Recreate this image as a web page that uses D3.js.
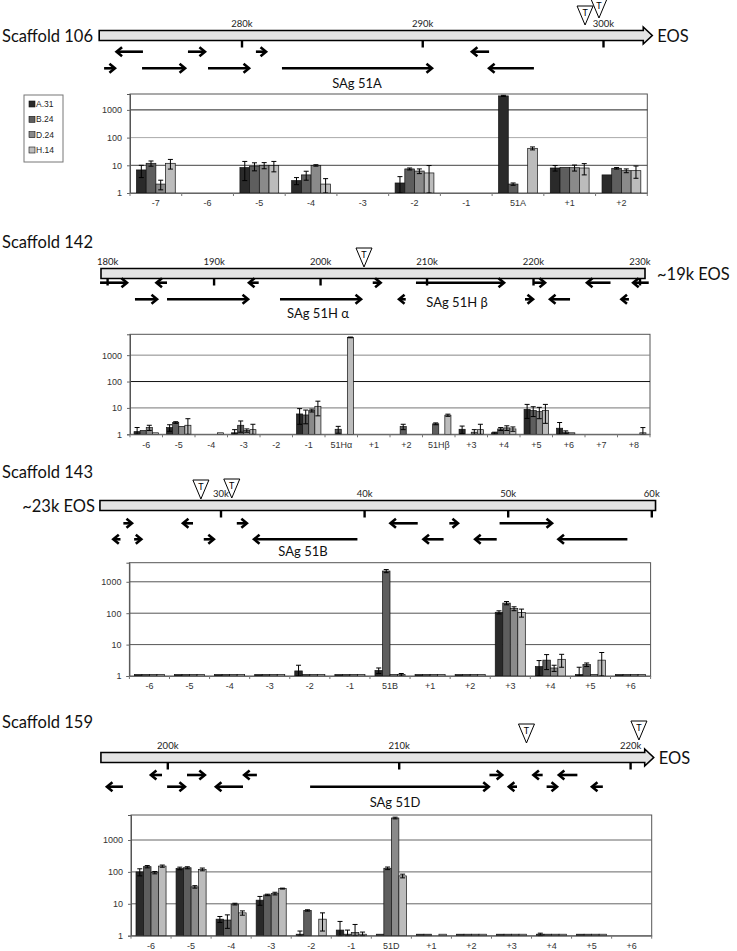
<!DOCTYPE html>
<html>
<head>
<meta charset="utf-8">
<script src="https://cdn.jsdelivr.net/npm/d3@7"></script>
<style>
body{margin:0;background:#fff;}
svg{display:block;}
.big{font-family:Lato,'Open Sans',sans-serif;font-size:16.5px;fill:#111;}
.kb{font-family:Lato,sans-serif;font-size:9.5px;fill:#222;}
.sag{font-family:Lato,sans-serif;font-size:13px;fill:#111;}
.ax text{font-family:'Liberation Sans',Arial,sans-serif;font-size:9px;fill:#333;}
.leg{font-family:'Liberation Sans',Arial,sans-serif;font-size:8.5px;fill:#222;}
</style>
</head>
<body>
<svg id="fig" width="737" height="951"></svg>
<script>
var series = ['A.31', 'B.24', 'D.24', 'H.14'];
var colors = ['#2a2a2a', '#5e5e5e', '#8a8a8a', '#bcbcbc'];
var yTicks = [1, 10, 100, 1000];

// ---- scaffold maps (kb). genes: [from, to, row], arrow points at "to"
var sc106Ticks = [280, 290, 300];
var sc106Span = [272.1, 302.2];
var sc106Tsites = [298.98, 299.75];
var sc106Genes = [
	[274.52, 273.06, 0], [277.01, 277.95, 0], [280.77, 281.33, 0], [293.67, 292.72, 0],
	[272.37, 272.97, 1], [274.47, 276.85, 1], [278.12, 280.39, 1], [282.21, 290.51, 1], [296.15, 293.67, 1]
];

var sc142Ticks = [180, 190, 200, 210, 220, 230];
var sc142Span = [179.38, 230.47];
var sc142Tsites = [204.08];
var sc142Genes = [
	[179.29, 181.82, 0], [185.58, 184.59, 0], [194.19, 193.28, 0], [204.9, 205.64, 0],
	[208.96, 217.23, 0], [220.05, 221.08, 0], [227.23, 225.02, 0], [230.82, 229.36, 0],
	[182.57, 184.64, 1], [185.58, 193.19, 1], [196.19, 203.8, 1], [208.0, 207.37, 1],
	[219.2, 219.95, 1], [223.43, 221.55, 1], [228.96, 228.26, 1]
];

var sc143Ticks = [30, 40, 50, 60];
var sc143Span = [21.57, 60.26];
var sc143Tsites = [28.6, 30.75];
var sc143Genes = [
	[23.2, 23.8, 0], [28.05, 27.35, 0], [31.1, 31.8, 0], [43.7, 41.8, 0], [45.9, 46.5, 0], [49.4, 53.05, 0],
	[23.0, 22.5, 1], [23.95, 24.45, 1], [28.8, 29.5, 1], [39.5, 32.3, 1], [45.5, 44.1, 1],
	[49.2, 47.7, 1], [58.3, 53.5, 1]
];

var sc159Ticks = [200, 210, 220];
var sc159Span = [197.11, 220.61];
var sc159Tsites = [215.5, 220.36];
var sc159Genes = [
	[199.75, 199.27, 0], [200.83, 201.6, 0], [203.85, 203.3, 0], [213.9, 214.45, 0],
	[216.2, 215.8, 0], [217.7, 216.9, 0],
	[198.06, 197.37, 1], [199.97, 200.74, 1], [203.25, 202.08, 1], [206.15, 213.87, 1],
	[215.09, 214.74, 1], [216.37, 216.82, 1], [218.8, 218.33, 1]
];

// ---- expression charts (null = no bar)
var cat106 = ['-7', '-6', '-5', '-4', '-3', '-2', '-1', '51A', '+1', '+2'];
var c106A = [6.8, null, 8.3, 2.8, null, 2.3, null, 3200, 8, 4.5];
var c106Aerr = [3.2, 0, 5.5, 0.8, 0, 1.6, 0, 150, 1.8, 0];
var c106B = [11.8, null, 9.3, 4.5, null, 7.4, null, 2.1, 8.4, 7.8];
var c106Berr = [2.5, 0, 3, 1.6, 0, 0.6, 0, 0.2, 0, 0.5];
var c106D = [2.1, null, 10, 9.9, null, 6.2, null, null, 8.2, 6.4];
var c106Derr = [0.8, 0, 2.5, 0.6, 0, 1.2, 0, 0, 2, 1];
var c106H = [11.8, null, 9.8, 2.1, null, 5.3, null, 41, 8, 6.4];
var c106Herr = [4.5, 0, 4, 1.2, 0, 4.5, 0, 5, 3.5, 3];

var cat142 = ['-6', '-5', '-4', '-3', '-2', '-1', '51H\u03b1', '+1', '+2', '51H\u03b2', '+3', '+4', '+5', '+6', '+7', '+8'];
var c142A = [1.26, 1.8, null, 1.05, null, 5.9, null, null, null, null, 1.55, 1.05, 8.8, 1.7, null, null];
var c142Aerr = [0.55, 0.5, 0, 0.45, 0, 3.5, 0, 0, 0, 0, 0.5, 0.15, 4.8, 1.1, 0, 0];
var c142B = [1.4, 2.8, null, 2.2, null, 5.4, 1.55, null, 1.95, 2.5, null, 1.6, 7.9, 1.2, null, null];
var c142Berr = [0, 0.2, 0, 1.0, 0, 2.9, 0.45, 0, 0.45, 0.2, 0, 0.2, 3.2, 0.15, 0, 0];
var c142D = [1.8, 2.0, null, 1.4, null, 8.0, null, null, null, null, 1.2, 1.75, 7.2, 1.05, null, null];
var c142Derr = [0.4, 0, 0, 0.2, 0, 1, 0, 0, 0, 0, 0.3, 0.35, 3.3, 0, 0, 0];
var c142H = [1.05, 2.2, 1.05, 1.5, null, 11.5, 4700, null, null, 5.3, 1.5, 1.6, 8.1, null, null, 1.05];
var c142Herr = [0, 1.7, 0, 0.9, 0, 6.5, 150, 0, 0, 0.5, 0.9, 0.3, 5.5, 0, 0, 0.75];

var cat143 = ['-6', '-5', '-4', '-3', '-2', '-1', '51B', '+1', '+2', '+3', '+4', '+5', '+6'];
var c143A = [1, 1, 1, 1, 1.45, 1, 1.5, 1, 1, 107, 2.0, 1, 1];
var c143Aerr = [0, 0, 0, 0, 0.75, 0, 0.3, 0, 0, 12, 1.1, 0.9, 0];
var c143B = [1, 1, 1, 1, 1, 1, 2200, 1, 1, 210, 3.2, 2.3, 1];
var c143Berr = [0, 0, 0, 0, 0, 0, 250, 0, 0, 25, 1.6, 0.3, 0];
var c143D = [1, 1, 1, 1, 1, 1, 1.1, 1, 1, 140, 1.8, 1, 1];
var c143Derr = [0, 0, 0, 0, 0, 0, 0, 0, 0, 20, 0.4, 0, 0];
var c143H = [1, 1, 1, 1, 1, 1, 1.1, 1, 1, 105, 3.4, 3.2, 1];
var c143Herr = [0, 0, 0, 0, 0, 0, 0.1, 0, 0, 30, 1.5, 2.4, 0];

var cat159 = ['-6', '-5', '-4', '-3', '-2', '-1', '51D', '+1', '+2', '+3', '+4', '+5', '+6'];
var c159A = [100, 129, 3.3, 13, 1, 1.5, 1, 1, 1, 1, 1, 1, null];
var c159Aerr = [25, 12, 0.7, 4, 0.4, 1.3, 0, 0, 0, 0, 0.2, 0, 0];
var c159B = [146, 135, 3.1, 19, 6.2, 1, 130, 1, 1, 1, 1, 1, null];
var c159Berr = [12, 10, 1.4, 1, 0.3, 0.5, 12, 0, 0, 0, 0, 0, 0];
var c159D = [95, 34, 9.8, 21, null, 1.25, 4900, null, 1, 1, 1, 1, null];
var c159Derr = [8, 3, 0.6, 2, 0, 1, 300, 0, 0, 0, 0, 0, 0];
var c159H = [152, 120, 5.2, 30, 3.3, 1, 75, 1, 1, 1, 1, 1, null];
var c159Herr = [12, 12, 0.8, 1, 1.9, 0.3, 10, 0, 0, 0, 0, 0, 0];

var svg = d3.select('#fig');

function pointsAttr(pts){
	return pts.map(function(p){ return p.join(','); }).join(' ');
}

function drawScaffold(cfg){
	var g = svg.append('g');
	var x = d3.scaleLinear().domain(cfg.tickDomain).range(cfg.tickRange);
	var xa = x(cfg.span[0]), xb = x(cfg.span[1]);
	var top = cfg.barY, bot = cfg.barY + 10, mid = cfg.barY + 5;

	g.append('text').attr('class', 'big').attr('x', 2).attr('y', cfg.labelY)
		.attr('dominant-baseline', 'central').text(cfg.name);

	var pts;
	if (cfg.head){
		pts = [[xa, top], [xb, top], [xb, mid - 8.5], [xb + 9, mid], [xb, mid + 8.5], [xb, bot], [xa, bot]];
	} else {
		pts = [[xa, top], [xb, top], [xb, bot], [xa, bot]];
	}
	g.append('polygon').attr('points', pointsAttr(pts))
		.attr('fill', '#e4e4e4').attr('stroke', '#000').attr('stroke-width', 1.6);

	g.selectAll('.tk').data(cfg.ticks).enter().append('line')
		.attr('x1', function(t){ return x(t); }).attr('x2', function(t){ return x(t); })
		.attr('y1', bot).attr('y2', bot + 7)
		.attr('stroke', '#000').attr('stroke-width', 2.4);

	g.selectAll('.tl').data(cfg.ticks).enter().append('text')
		.attr('class', 'kb').attr('text-anchor', 'middle')
		.attr('x', function(t){ return x(t); }).attr('y', top - 4)
		.text(function(t){ return t + 'k'; });

	// end-of-sequence label
	var eos = g.append('text').attr('class', 'big').attr('dominant-baseline', 'central')
		.attr('y', mid).text(cfg.eos);
	if (cfg.eosLeft){
		eos.attr('x', xa - 5).attr('text-anchor', 'end');
	} else {
		eos.attr('x', cfg.head ? xb + 14 : xb + 12);
	}

	// gene arrows
	cfg.genes.forEach(function(d){
		var x1 = x(d[0]), x2 = x(d[1]), y = cfg.rows[d[2]];
		var dir = x2 > x1 ? 1 : -1;
		g.append('line').attr('x1', x1).attr('x2', x2 - dir).attr('y1', y).attr('y2', y)
			.attr('stroke', '#000').attr('stroke-width', 2.6);
		g.append('path')
			.attr('d', 'M' + (x2 - dir * 5.5) + ',' + (y - 4.5) + 'L' + x2 + ',' + y + 'L' + (x2 - dir * 5.5) + ',' + (y + 4.5))
			.attr('fill', 'none').attr('stroke', '#000').attr('stroke-width', 2.6)
			.attr('stroke-linejoin', 'miter');
	});

	cfg.sag.forEach(function(s){
		g.append('text').attr('class', 'sag').attr('text-anchor', 'middle')
			.attr('dominant-baseline', 'central').attr('x', s[1]).attr('y', s[2]).text(s[0]);
	});

	// terminator sites
	cfg.tsites.forEach(function(t, i){
		var xt = x(t), ty = cfg.tipY[i];
		g.append('polygon').attr('points', pointsAttr([[xt - 8, ty - 19], [xt + 8, ty - 19], [xt, ty]]))
			.attr('fill', '#fff').attr('stroke', '#000').attr('stroke-width', 1);
		g.append('text').attr('text-anchor', 'middle')
			.attr('x', xt).attr('y', ty - 9)
			.style('font-family', 'Lato, sans-serif').style('font-size', '9px').style('fill', '#000')
			.text('T');
	});
}

function drawChart(cfg){
	var g = svg.append('g');
	var x = d3.scaleBand().domain(cfg.cats).range([cfg.x0, cfg.x1]).paddingInner(0.25).paddingOuter(0.125);
	var xs = d3.scaleBand().domain(series).range([0, x.bandwidth()]);
	var y = d3.scaleLog().domain([1, cfg.ymax]).range([cfg.y1, cfg.y0]);

	g.append('rect').attr('x', cfg.x0).attr('y', cfg.y0)
		.attr('width', cfg.x1 - cfg.x0).attr('height', cfg.y1 - cfg.y0)
		.attr('fill', 'none').attr('stroke', '#555').attr('stroke-width', 1);

	g.selectAll('.grid').data(yTicks.slice(1)).enter().append('line')
		.attr('x1', cfg.x0).attr('x2', cfg.x1)
		.attr('y1', function(v){ return y(v); }).attr('y2', function(v){ return y(v); })
		.attr('stroke', function(v, i){ return cfg.grid[i]; }).attr('stroke-width', 1);

	var ya = g.append('g').attr('class', 'ax').attr('transform', 'translate(' + cfg.x0 + ',0)')
		.call(d3.axisLeft(y).tickValues(yTicks).tickFormat(d3.format('d')).tickSize(3).tickPadding(5));
	ya.select('.domain').attr('stroke', '#555');
	ya.selectAll('line').attr('stroke', '#666');

	// bars
	cfg.vals.forEach(function(vals, k){
		var errs = cfg.errs[k];
		var data = cfg.cats.map(function(c, i){ return {c: c, v: vals[i], e: errs[i]}; })
			.filter(function(d){ return d.v !== null; });
		g.selectAll('.b' + k).data(data).enter().append('rect')
			.attr('x', function(d){ return x(d.c) + xs(series[k]); })
			.attr('width', xs.bandwidth())
			.attr('y', function(d){ return Math.min(y(d.v), cfg.y1 - 1.5); })
			.attr('height', function(d){ return Math.max(cfg.y1 - y(d.v), 1.5); })
			.attr('fill', colors[k]).attr('stroke', '#111').attr('stroke-width', 0.7);

		data.filter(function(d){ return d.e > 0; }).forEach(function(d){
			var cx = x(d.c) + xs(series[k]) + xs.bandwidth() / 2;
			var hi = y(d.v + d.e), lo = y(Math.max(1, d.v - d.e));
			g.append('path')
				.attr('d', 'M' + cx + ',' + lo + 'V' + hi + 'M' + (cx - 2.5) + ',' + hi + 'H' + (cx + 2.5) +
					'M' + (cx - 2.5) + ',' + lo + 'H' + (cx + 2.5))
				.attr('stroke', '#000').attr('stroke-width', 1).attr('fill', 'none');
		});
	});

	// category axis
	var xa = g.append('g').attr('class', 'ax').attr('transform', 'translate(0,' + cfg.y1 + ')')
		.call(d3.axisBottom(x).tickSize(0).tickPadding(7));
	xa.select('.domain').attr('stroke', '#666');
	g.selectAll('.sep').data(d3.range(cfg.cats.length + 1)).enter().append('line')
		.attr('x1', function(i){ return cfg.x0 + i * x.step(); })
		.attr('x2', function(i){ return cfg.x0 + i * x.step(); })
		.attr('y1', cfg.y1).attr('y2', cfg.y1 + 3)
		.attr('stroke', '#777');
}

function drawLegend(){
	var g = svg.append('g');
	g.append('rect').attr('x', 24).attr('y', 95).attr('width', 39).attr('height', 67)
		.attr('fill', '#fff').attr('stroke', '#777').attr('stroke-width', 1);
	var ly = d3.scalePoint().domain(series).range([104, 150]);
	series.forEach(function(s, k){
		g.append('rect').attr('x', 29).attr('y', ly(s) - 3).attr('width', 6).attr('height', 6)
			.attr('fill', colors[k]).attr('stroke', '#111').attr('stroke-width', 0.6);
		g.append('text').attr('class', 'leg').attr('x', 36).attr('y', ly(s))
			.attr('dominant-baseline', 'central').text(s);
	});
}

drawScaffold({
	name: 'Scaffold 106', labelY: 36, eos: 'EOS', head: true,
	tickDomain: [280, 300], tickRange: [242, 603.5], span: sc106Span, ticks: sc106Ticks,
	barY: 30.5, rows: [51.7, 68.3], genes: sc106Genes,
	sag: [['SAg 51A', 357, 82.7]], tsites: sc106Tsites, tipY: [25, 18]
});
drawChart({
	cats: cat106, x0: 130, x1: 647.3, y0: 94, y1: 193, ymax: 3750, grid: ['#444', '#aaa', '#222'],
	vals: [c106A, c106B, c106D, c106H], errs: [c106Aerr, c106Berr, c106Derr, c106Herr]
});
drawLegend();

drawScaffold({
	name: 'Scaffold 142', labelY: 242, eos: '~19k EOS', head: false,
	tickDomain: [180, 230], tickRange: [107.6, 640], span: sc142Span, ticks: sc142Ticks,
	barY: 268.5, rows: [282.7, 299.3], genes: sc142Genes,
	sag: [['SAg 51H \u03b2', 457, 301.7], ['SAg 51H \u03b1', 318, 313]], tsites: sc142Tsites, tipY: [267]
});
drawChart({
	cats: cat142, x0: 130, x1: 650, y0: 334.3, y1: 434.3, ymax: 6170, grid: ['#777', '#111', '#888'],
	vals: [c142A, c142B, c142D, c142H], errs: [c142Aerr, c142Berr, c142Derr, c142Herr]
});

drawScaffold({
	name: 'Scaffold 143', labelY: 472, eos: '~23k EOS', eosLeft: true, head: false,
	tickDomain: [30, 60], tickRange: [221, 651.8], span: sc143Span, ticks: sc143Ticks,
	barY: 500.5, rows: [523.3, 539.3], genes: sc143Genes,
	sag: [['SAg 51B', 303, 551]], tsites: sc143Tsites, tipY: [499, 498]
});
drawChart({
	cats: cat143, x0: 129.4, x1: 650.6, y0: 562.7, y1: 676, ymax: 4055, grid: ['#555', '#555', '#555'],
	vals: [c143A, c143B, c143D, c143H], errs: [c143Aerr, c143Berr, c143Derr, c143Herr]
});

drawScaffold({
	name: 'Scaffold 159', labelY: 722, eos: 'EOS', head: true,
	tickDomain: [200, 220], tickRange: [167.8, 630.6], span: sc159Span, ticks: sc159Ticks,
	barY: 752.5, rows: [775, 786.7], genes: sc159Genes,
	sag: [['SAg 51D', 395, 801.7]], tsites: sc159Tsites, tipY: [743, 740]
});
drawChart({
	cats: cat159, x0: 131, x1: 651.7, y0: 815, y1: 935.7, ymax: 6080, grid: ['#666', '#666', '#666'],
	vals: [c159A, c159B, c159D, c159H], errs: [c159Aerr, c159Berr, c159Derr, c159Herr]
});
</script>
</body>
</html>
